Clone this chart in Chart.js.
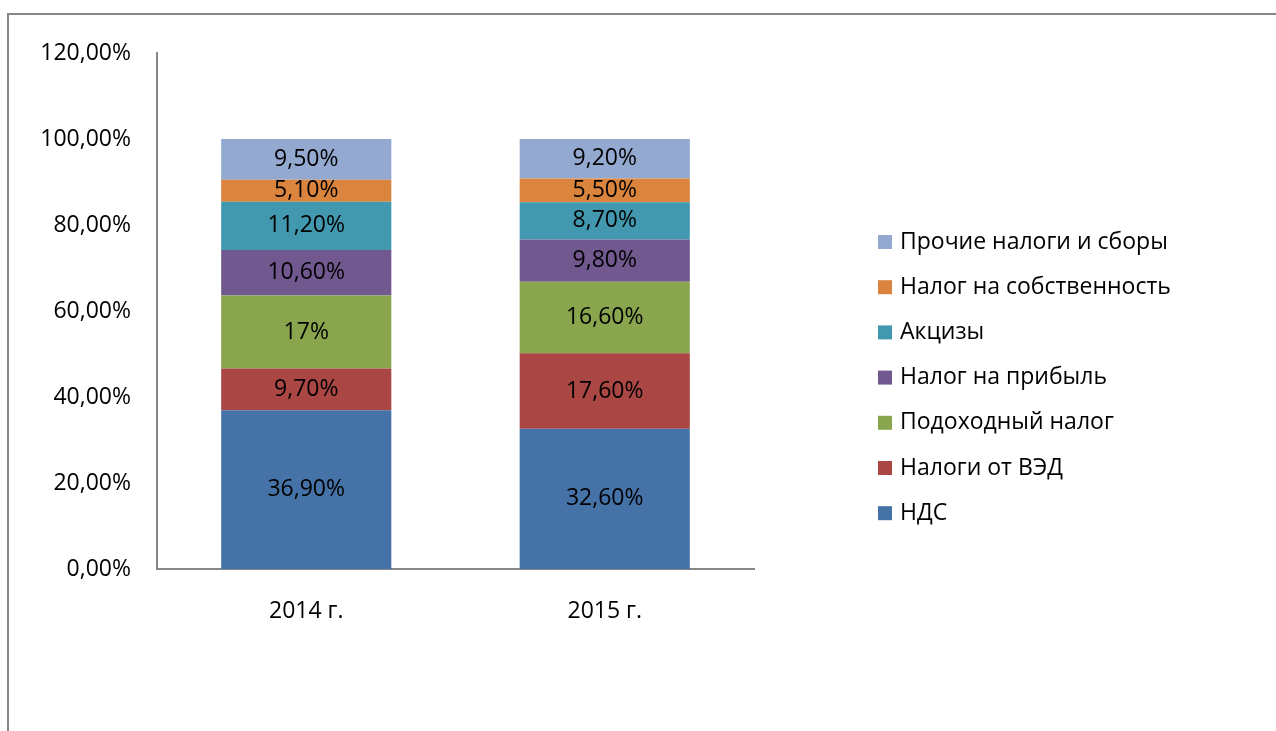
<!DOCTYPE html>
<html>
<head>
<meta charset="utf-8">
<script src="https://cdn.jsdelivr.net/npm/chart.js@4.4.0/dist/chart.umd.min.js"></script>
<style>
  html, body { margin: 0; padding: 0; background: #fff; overflow: hidden; }
  #wrap { position: relative; width: 1276px; height: 731px; }
  #frame {
    position: absolute; left: 7px; top: 13px; width: 1300px; height: 740px;
    border-top: 2px solid #868686; border-left: 2px solid #868686;
  }
  canvas { position: absolute; left: 0; top: 0; }
</style>
</head>
<body>
<div id="wrap">
  <div id="frame"></div>
  <canvas id="chart" width="1276" height="731"></canvas>
</div>
<script>
// Данные диаграммы
const categories = ['2014 г.', '2015 г.'];
const seriesNames = ['НДС', 'Налоги от ВЭД', 'Подоходный налог', 'Налог на прибыль', 'Акцизы', 'Налог на собственность', 'Прочие налоги и сборы'];
const vat        = [36.9, 32.6];
const foreignEa  = [9.7, 17.6];
const incomeTax  = [17, 16.6];
const profitTax  = [10.6, 9.8];
const excise     = [11.2, 8.7];
const propertyTax= [5.1, 5.5];
const otherTax   = [9.5, 9.2];
const yTicks = [0, 20, 40, 60, 80, 100, 120];

const colors = ['#4572A7', '#AA4643', '#89A54E', '#71588F', '#4198AF', '#DB843D', '#93A9CF'];
const seriesValues = [vat, foreignEa, incomeTax, profitTax, excise, propertyTax, otherTax];

const FONT = '"Open Sans", sans-serif';
const FSIZE = 23;

// Формат как в Excel: запятая
function fmtTick(v) {
    return v.toFixed(2).replace('.', ',') + '%';
}
function fmtLabel(v) {
    return Number.isInteger(v) ? v + '%' : v.toFixed(2).replace('.', ',') + '%';
}

// Подписи данных в центре сегментов
const dataLabels = {
    id: 'dataLabels',
    afterDatasetsDraw(chart) {
        const ctx = chart.ctx;
        ctx.save();
        ctx.font = FSIZE + 'px ' + FONT;
        ctx.fillStyle = '#000';
        ctx.textAlign = 'center';
        ctx.textBaseline = 'middle';
        chart.data.datasets.forEach((ds, i) => {
            chart.getDatasetMeta(i).data.forEach((bar, j) => {
                const y = (bar.y + bar.base) / 2;
                ctx.fillText(fmtLabel(ds.data[j]), bar.x, y);
            });
        });
        ctx.restore();
    }
};

// Легенда справа (обратный порядок, как в Excel)
const sideLegend = {
    id: 'sideLegend',
    afterDraw(chart) {
        const ctx = chart.ctx;
        const n = chart.data.datasets.length;
        ctx.save();
        ctx.font = FSIZE + 'px ' + FONT;
        ctx.textBaseline = 'middle';
        ctx.textAlign = 'left';
        for (let k = 0; k < n; k++) {
            const ds = chart.data.datasets[n - 1 - k];
            const cy = 242 + k * 45.2;
            ctx.fillStyle = ds.backgroundColor;
            ctx.fillRect(878, cy - 7, 14, 14);
            ctx.fillStyle = '#000';
            ctx.fillText(ds.label, 900, cy);
        }
        ctx.restore();
    }
};

new Chart(document.getElementById('chart'), {
    type: 'bar',
    data: {
        labels: categories,
        datasets: seriesNames.map((name, i) => ({
            label: name,
            data: seriesValues[i],
            backgroundColor: colors[i],
            borderWidth: 0,
            barPercentage: 0.57,
            categoryPercentage: 1
        }))
    },
    options: {
        responsive: false,
        animation: false,
        layout: { padding: { top: 53, right: 522, bottom: 0, left: 0 } },
        plugins: {
            legend: { display: false },
            tooltip: { enabled: false }
        },
        scales: {
            x: {
                stacked: true,
                grid: { display: false, drawTicks: false },
                border: { color: '#868686', width: 2 },
                ticks: { color: '#000', font: { family: FONT, size: FSIZE }, padding: 29 },
                afterFit(scale) { scale.height = 162; }
            },
            y: {
                stacked: true,
                min: 0,
                max: 120,
                afterBuildTicks(scale) { scale.ticks = yTicks.map(v => ({ value: v })); },
                grid: { display: false, drawTicks: false },
                border: { color: '#868686', width: 2 },
                ticks: {
                    color: '#000',
                    font: { family: FONT, size: FSIZE },
                    padding: 26,
                    callback: v => fmtTick(v)
                },
                afterFit(scale) { scale.width = 157; }
            }
        }
    },
    plugins: [dataLabels, sideLegend]
});
</script>
</body>
</html>
